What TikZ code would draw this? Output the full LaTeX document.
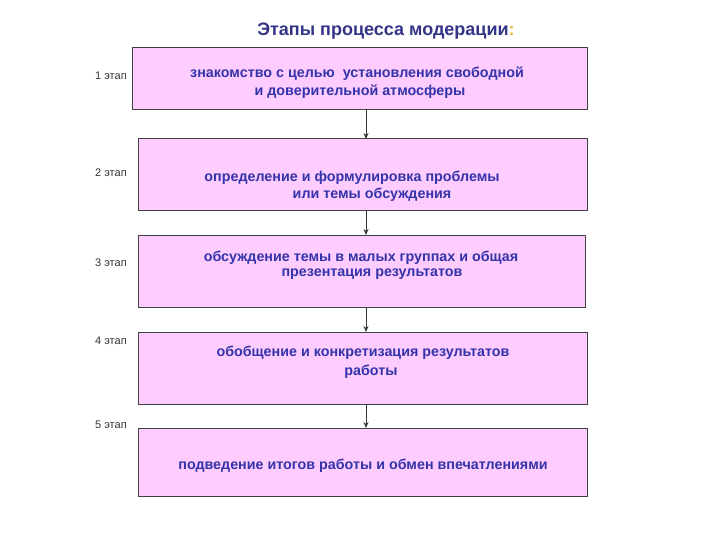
\documentclass[tikz,border=0pt]{standalone}
\usepackage{fontspec}
\setmainfont{Liberation Sans}[BoldFont={Liberation Sans Bold}]
\usetikzlibrary{arrows.meta}
\definecolor{boxfill}{RGB}{255,204,255}
\definecolor{boxtext}{RGB}{51,51,170}
\definecolor{titlecol}{RGB}{51,51,136}
\definecolor{colon}{RGB}{230,180,60}
\tikzset{
  stage/.style={draw=black!75, line width=1pt, fill=boxfill},
  btxt/.style={text=boxtext, font=\fontsize{14.3}{17}\selectfont\bfseries, inner sep=0pt, anchor=center},
  lbl/.style={font=\fontsize{11}{13}\selectfont, text=black!80, inner sep=0pt, anchor=west},
  conn/.style={draw=black!80, line width=0.9pt, -{Stealth[length=6pt,width=5pt]}}
}
\begin{document}
\begin{tikzpicture}[x=1pt,y=-1pt]
\useasboundingbox (0,0) rectangle (720,540);
\node[font=\fontsize{18}{21}\selectfont\bfseries, text=titlecol, inner sep=0pt] (title) at (386,31) {Этапы процесса модерации\textcolor{colon}{:}};

\path[stage] (132,48) rectangle (587,110);
\coordinate (b1t) at (366,48); \coordinate (b1b) at (366,110);
\path[stage] (138,139) rectangle (587,211);
\coordinate (b2t) at (366,139); \coordinate (b2b) at (366,211);
\path[stage] (138,235) rectangle (585,307);
\coordinate (b3t) at (366,235); \coordinate (b3b) at (366,307);
\path[stage] (138,332) rectangle (587,404);
\coordinate (b4t) at (366,332); \coordinate (b4b) at (366,404);
\path[stage] (138,428) rectangle (587,496);
\coordinate (b5t) at (366,428);

\node[btxt] (t1a) at (357,73.5) {знакомство с целью\ \ установления свободной};
\node[btxt] (t1b) at (360,91.5) {и доверительной атмосферы};
\node[btxt] (t2a) at (352,177.5) {определение и формулировка проблемы};
\node[btxt] (t2b) at (372,194.5) {или темы обсуждения};
\node[btxt] (t3a) at (361,257.5) {обсуждение темы в малых группах и общая};
\node[btxt] (t3b) at (372,274.5) {презентация результатов};
\node[btxt] (t4a) at (363,352.5) {обобщение и конкретизация результатов};
\node[btxt] (t4b) at (371,371.5) {работы};
\node[btxt] (t5a) at (363,465.5) {подведение итогов работы и обмен впечатлениями};

\node[lbl] (l1) at (95,76) {1 этап};
\node[lbl] (l2) at (95,173) {2 этап};
\node[lbl] (l3) at (95,263) {3 этап};
\node[lbl] (l4) at (95,341) {4 этап};
\node[lbl] (l5) at (95,425) {5 этап};

\draw[conn] (b1b) -- (b2t);
\draw[conn] (b2b) -- (b3t);
\draw[conn] (b3b) -- (b4t);
\draw[conn] (b4b) -- (b5t);
\end{tikzpicture}
\end{document}
